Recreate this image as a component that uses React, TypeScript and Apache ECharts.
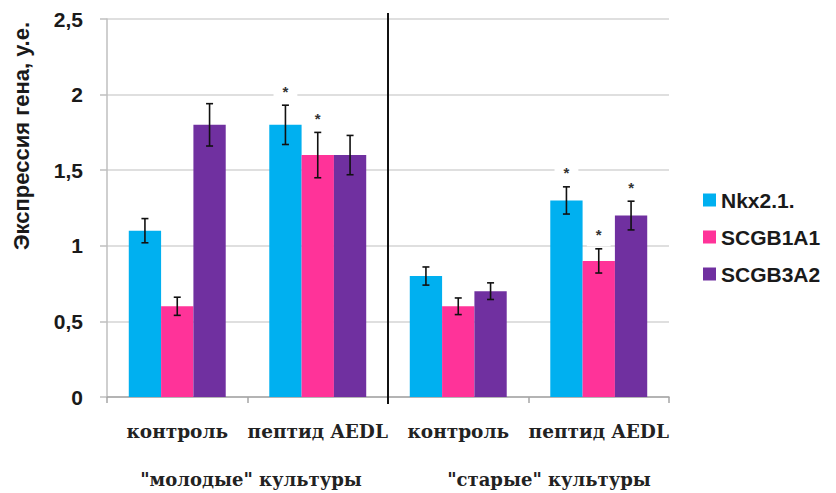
import React, { useEffect, useRef } from "react";
import * as echarts from "echarts";

const categories = ["контроль", "пептид AEDL", "контроль", "пептид AEDL"];
const seriesNames = ["Nkx2.1.", "SCGB1A1", "SCGB3A2"];
const nkx = [1.1, 1.8, 0.8, 1.3];
const scgb1a1 = [0.6, 1.6, 0.6, 0.9];
const scgb3a2 = [1.8, 1.6, 0.7, 1.2];
const nkxErr = [0.08, 0.13, 0.06, 0.09];
const scgb1a1Err = [0.06, 0.15, 0.055, 0.08];
const scgb3a2Err = [0.14, 0.13, 0.055, 0.095];
const nkxSig = [0, 1, 0, 1];
const scgb1a1Sig = [0, 1, 0, 1];
const scgb3a2Sig = [0, 0, 0, 1];
const groupLabels = ['"молодые" культуры', '"старые" культуры'];
const yTitle = "Экспрессия гена, у.е.";

const colors = ["#00B0F0", "#FF3399", "#7030A0"];
const GAP = 0.31;
const SANS = "Liberation Sans";
const SERIF = "DejaVu Serif";

export default function App() {
  const ref = useRef<HTMLDivElement>(null);
  useEffect(() => {
    document.body.style.margin = "0";
    if (!ref.current) return;
    const chart = echarts.init(ref.current, null, { renderer: "svg" });
    const values = [nkx, scgb1a1, scgb3a2];
    const errs = [nkxErr, scgb1a1Err, scgb3a2Err];
    const sigs = [nkxSig, scgb1a1Sig, scgb3a2Sig];

    const barSeries = values.map((v, s) => ({
      name: seriesNames[s],
      type: "bar",
      data: v,
      barGap: "0%",
      barCategoryGap: GAP * 100 + "%",
      itemStyle: { color: colors[s] },
      z: 2,
    }));

    const errSeries = values.map((v, s) => ({
      type: "custom",
      name: seriesNames[s] + " err",
      z: 5,
      silent: true,
      encode: { x: 0, y: 1 },
      data: v.map((val, i) => [i, val, errs[s][i], sigs[s][i]]),
      renderItem: (params: any, api: any) => {
        const idx = api.value(0);
        const val = api.value(1);
        const e = api.value(2);
        const sig = api.value(3);
        const c = api.coord([idx, val]);
        const band = api.size([1, 0])[0];
        const bw = (band * (1 - GAP)) / 3;
        const x = c[0] + (s - 1) * bw;
        const top = api.coord([idx, val + e])[1];
        const bot = api.coord([idx, val - e])[1];
        const cap = 3.5;
        const st = { stroke: "#111", lineWidth: 1.6 };
        const children: any[] = [
          { type: "line", shape: { x1: x, y1: top, x2: x, y2: bot }, style: st },
          { type: "line", shape: { x1: x - cap, y1: top, x2: x + cap, y2: top }, style: st },
          { type: "line", shape: { x1: x - cap, y1: bot, x2: x + cap, y2: bot }, style: st },
        ];
        if (sig) {
          children.push({
            type: "text",
            style: {
              text: "*",
              x: x,
              y: top - 14,
              align: "center",
              verticalAlign: "middle",
              fill: "#333",
              fontFamily: SANS,
              fontWeight: "bold",
              fontSize: 15,
              backgroundColor: "#fff",
              padding: [5, 9, 3, 9],
            },
          });
        }
        return { type: "group", children };
      },
    }));

    chart.setOption({
      animation: false,
      backgroundColor: "#fff",
      grid: { left: 107, right: 167, top: 19, bottom: 96 },
      legend: {
        orient: "vertical",
        left: 698,
        top: 183,
        itemWidth: 13,
        itemHeight: 13,
        itemGap: 13,
        icon: "rect",
        data: seriesNames,
        textStyle: {
          fontFamily: SANS,
          fontWeight: "bold",
          fontSize: 21,
          lineHeight: 24,
          color: "#1a1a1a",
        },
      },
      xAxis: {
        type: "category",
        data: categories,
        axisLine: { lineStyle: { color: "#a6a6a6", width: 1.5 } },
        axisTick: { show: true, length: 6, lineStyle: { color: "#a6a6a6", width: 1.5 } },
        axisLabel: {
          interval: 0,
          margin: 25,
          fontFamily: SERIF,
          fontWeight: "bold",
          fontSize: 18.5,
          color: "#222",
        },
      },
      yAxis: {
        type: "value",
        min: 0,
        max: 2.5,
        interval: 0.5,
        axisLine: { show: true, lineStyle: { color: "#bfbfbf", width: 1.5 } },
        axisTick: { show: true, length: 7, lineStyle: { color: "#bfbfbf", width: 1.5 } },
        splitLine: { lineStyle: { color: "#d4d4d4", width: 1.5 } },
        axisLabel: {
          margin: 24,
          fontFamily: SANS,
          fontWeight: "bold",
          fontSize: 21,
          color: "#1a1a1a",
          formatter: (v: number) => String(v).replace(".", ","),
        },
      },
      series: [...barSeries, ...errSeries],
    });

    const c1 = chart.convertToPixel({ xAxisIndex: 0 }, 1) as number;
    const c2 = chart.convertToPixel({ xAxisIndex: 0 }, 2) as number;
    const sepX = (c1 + c2) / 2;

    chart.setOption({
      graphic: [
        {
          type: "line",
          shape: { x1: sepX, y1: 13, x2: sepX, y2: 404 },
          style: { stroke: "#111", lineWidth: 2 },
          z: 10,
        },
        {
          type: "text",
          x: 21,
          y: 136,
          rotation: Math.PI / 2,
          style: {
            text: yTitle,
            align: "center",
            verticalAlign: "middle",
            fontFamily: SANS,
            fontWeight: "bold",
            fontSize: 22,
            fill: "#1a1a1a",
          },
        },
        {
          type: "text",
          x: 251,
          y: 479,
          style: {
            text: groupLabels[0],
            align: "center",
            verticalAlign: "middle",
            fontFamily: SERIF,
            fontWeight: "bold",
            fontSize: 18,
            fill: "#222",
          },
        },
        {
          type: "text",
          x: 549,
          y: 479,
          style: {
            text: groupLabels[1],
            align: "center",
            verticalAlign: "middle",
            fontFamily: SERIF,
            fontWeight: "bold",
            fontSize: 18,
            fill: "#222",
          },
        },
      ],
    });

    return () => chart.dispose();
  }, []);
  return <div ref={ref} style={{ width: 836, height: 493 }} />;
}
